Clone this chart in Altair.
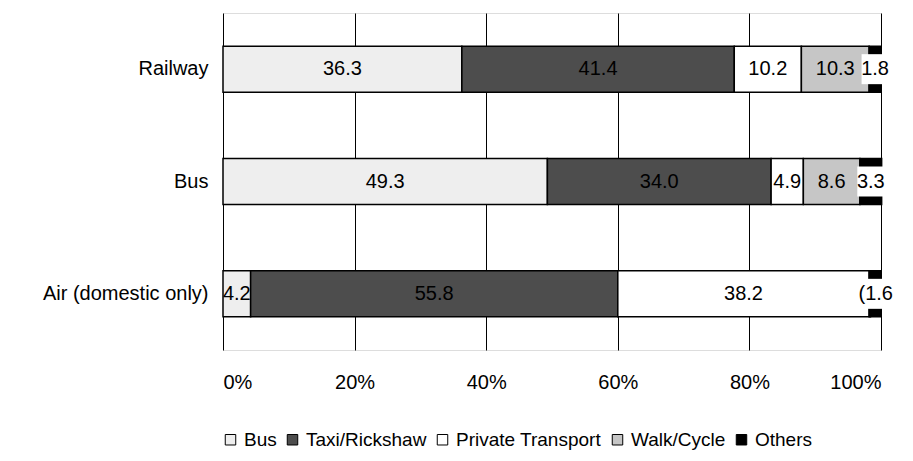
import altair as alt
import pandas as pd

modes = ["Railway", "Bus", "Air (domestic only)"]
series = ["Bus", "Taxi/Rickshaw", "Private Transport", "Walk/Cycle", "Others"]
railway = [36.3, 41.4, 10.2, 10.3, 1.8]
bus = [49.3, 34.0, 4.9, 8.6, 3.3]
air = [4.2, 55.8, 38.2, 0.2, 1.6]
railway_labels = ["36.3", "41.4", "10.2", "10.3", "1.8"]
bus_labels = ["49.3", "34.0", "4.9", "8.6", "3.3"]
air_labels = ["4.2", "55.8", "38.2", "", "(1.6"]
x_ticks = [0, 20, 40, 60, 80, 100]
colors = ["#eeeeee", "#4d4d4d", "#ffffff", "#c6c6c6", "#000000"]

rows = []
for mode, vals, labs in zip(modes, [railway, bus, air], [railway_labels, bus_labels, air_labels]):
    for i, (s, v, l) in enumerate(zip(series, vals, labs)):
        rows.append({"mode": mode, "series": s, "order": i, "value": v, "label": l})
df = pd.DataFrame(rows)

FONT = "Liberation Sans"

base = alt.Chart(df).transform_stack(
    stack="value", groupby=["mode"], as_=["start", "end"],
    sort=[alt.SortField("order", order="ascending")]
).transform_calculate(mid="(datum.start + datum.end) / 2")

x_scale = alt.Scale(domain=[0, 100], nice=False, zero=True)
y_enc = alt.Y("mode:N", sort=modes, title=None,
              scale=alt.Scale(paddingInner=0, paddingOuter=0),
              axis=alt.Axis(domain=False, ticks=False, labelPadding=15,
                            labelFontSize=20, labelFont=FONT, labelColor="black"))

bars = base.mark_bar(size=46, stroke="black", strokeWidth=1.5).encode(
    x=alt.X("start:Q", scale=x_scale, title=None,
            axis=alt.Axis(values=x_ticks, labelExpr="datum.value + '%'", grid=True,
                          gridColor="black", gridWidth=1, gridOpacity=1,
                          domain=False, ticks=False, labelPadding=22,
                          labelFontSize=20, labelFont=FONT, labelColor="black")),
    x2="end:Q",
    y=y_enc,
    color=alt.Color("series:N", sort=series,
                    scale=alt.Scale(domain=series, range=colors),
                    legend=alt.Legend(title=None, orient="none", legendX=-2, legendY=417,
                                      direction="horizontal", symbolType="square",
                                      symbolSize=110, symbolStrokeColor="black",
                                      symbolStrokeWidth=1, labelFontSize=19,
                                      labelFont=FONT, labelColor="black",
                                      columnPadding=6, symbolOffset=0, labelOffset=4)),
    order=alt.Order("order:Q"),
)

boxes = base.transform_filter("datum.series == 'Others'").mark_point(
    shape="M-0.9,-1H0.9V1H-0.9Z", filled=True, fill="white", opacity=1,
    size=900, strokeWidth=0
).encode(x=alt.X("mid:Q", scale=x_scale), y=alt.Y("mode:N", sort=modes))

labels = base.mark_text(fontSize=20, font=FONT, color="black").encode(
    x=alt.X("mid:Q", scale=x_scale),
    y=alt.Y("mode:N", sort=modes),
    text="label:N",
)

chart = alt.layer(bars, boxes, labels).properties(
    width=658, height=337,
    autosize=alt.AutoSizeParams(type="none"),
    padding={"left": 215, "top": 5, "right": 24, "bottom": 100},
).configure_view(stroke="black", strokeWidth=1.5).configure(background="white")

chart.save("out.html", embed_options={"renderer": "svg", "actions": False})
